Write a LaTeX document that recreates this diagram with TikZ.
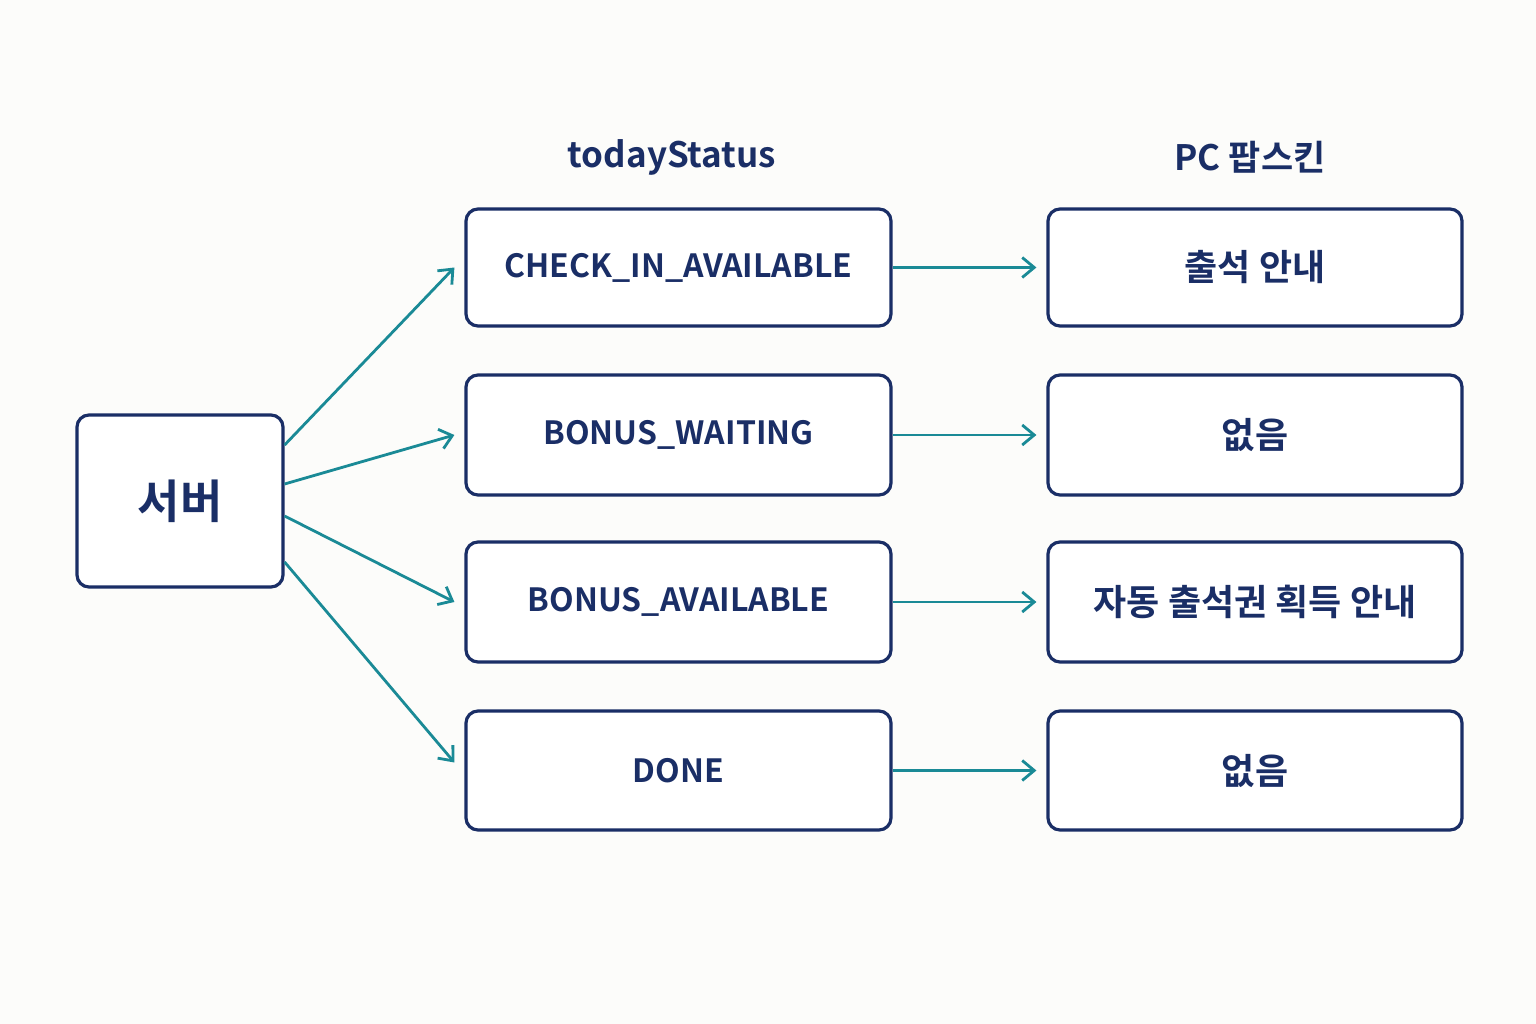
\documentclass[tikz,border=0pt]{standalone}
\usepackage{fontspec}
\setmainfont{Noto Sans CJK KR}[BoldFont={* Bold}]
\usetikzlibrary{arrows.meta}
\definecolor{navy}{HTML}{1A2E66}
\definecolor{teal}{HTML}{1A8A96}
\definecolor{bg}{HTML}{FCFCFA}
\begin{document}
\begin{tikzpicture}[x=1pt,y=-1pt,
  box/.style={draw=navy,line width=3.2pt,rounded corners=12pt,fill=white,inner sep=0pt,text=navy,font=\fontsize{32}{36}\selectfont\bfseries},
  arr/.style={draw=teal,line width=2.8pt,-{Straight Barb[length=12pt,width=20pt,line width=2.8pt]}},
  hdr/.style={text=navy,font=\fontsize{35}{38}\selectfont\bfseries}]
\fill[bg] (0,0) rectangle (1536,1024);
\useasboundingbox (0,0) rectangle (1536,1024);
\node[hdr] (h1) at (672,157) {todayStatus};
\node[hdr] (h2) at (1250,157) {PC 팝스킨};
\node[box,minimum width=206pt,minimum height=172pt,font=\fontsize{46}{50}\selectfont\bfseries] (s) at (180,501) {서버};
\foreach \n/\y/\h/\a/\b in {1/267.5/117/CHECK\_IN\_AVAILABLE/출석 안내,2/435/120/BONUS\_WAITING/없음,3/602/120/BONUS\_AVAILABLE/자동 출석권 획득 안내,4/770.5/119/DONE/없음}{
  \node[box,minimum width=425pt,minimum height=\h pt] (m\n) at (678.5,\y) {\a};
  \node[box,minimum width=414pt,minimum height=\h pt,font=\fontsize{36}{40}\selectfont\bfseries] (r\n) at (1255,\y) {\b};
  \draw[arr] (m\n.east) -- ([xshift=-10pt]r\n.west);
}
\draw[arr] ([yshift=56pt]s.east) -- ([xshift=-10pt]m1.west);
\draw[arr] ([yshift=17pt]s.east) -- ([xshift=-10pt]m2.west);
\draw[arr] ([yshift=-15pt]s.east) -- ([xshift=-10pt]m3.west);
\draw[arr] ([yshift=-61pt]s.east) -- ([xshift=-10pt,yshift=8pt]m4.west);
\end{tikzpicture}
\end{document}
